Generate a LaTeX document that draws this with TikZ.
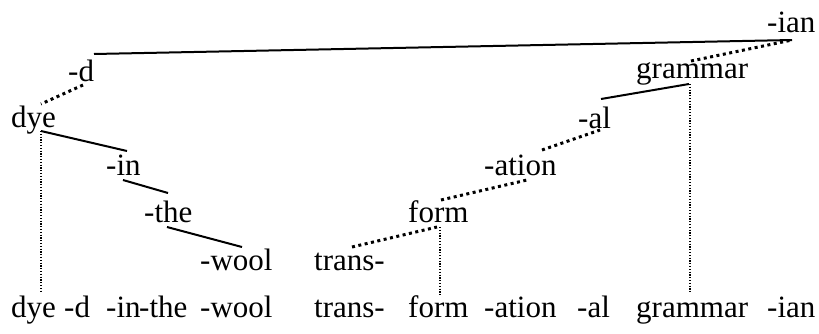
\documentclass[tikz,border=0pt]{standalone}
\usepackage{fontspec}
\setmainfont{Liberation Serif}
\begin{document}
\begin{tikzpicture}[x=1pt,y=-1pt,
  w/.style={anchor=base west,inner sep=0pt,font=\fontsize{31}{37}\selectfont},
  solidln/.style={line width=2pt},
  dotln/.style={line width=3pt,dash pattern=on 3pt off 3.5pt},
  thinln/.style={line width=1.2pt,dash pattern=on 1.2pt off 1.6pt}]
\useasboundingbox (0,0) rectangle (819,333);
% tree nodes
\node[w] (ian) at (767,32) {-ian};
\node[w] (d) at (68,81) {-d};
\node[w] (grammar) at (636,78) {grammar};
\node[w] (dye) at (11,127) {dye};
\node[w] (al) at (578,128) {-al};
\node[w] (in) at (106,175) {-in};
\node[w] (ation) at (484,175) {-ation};
\node[w] (the) at (144,222) {-the};
\node[w] (form) at (408,222) {form};
\node[w] (wool) at (200,270) {-wool};
\node[w] (trans) at (314,270) {trans-};
% bottom row
\node[w] (bdye) at (11,317) {dye};
\node[w] (bd) at (64,317) {-d};
\node[w] (bin) at (106,317) {-in};
\node[w] (bthe) at (139,317) {-the};
\node[w] (bwool) at (200,317) {-wool};
\node[w] (btrans) at (314,317) {trans-};
\node[w] (bform) at (408,317) {form};
\node[w] (bation) at (484,317) {-ation};
\node[w] (bal) at (577,317) {-al};
\node[w] (bgrammar) at (636,317) {grammar};
\node[w] (bian) at (767,317) {-ian};
% connectors
\draw[solidln] ([shift={(26,-27)}]d.base west) -- ([shift={(25,8)}]ian.base west);
\draw[dotln] ([shift={(15,4)}]d.base west) -- ([shift={(30,-23)}]dye.base west);
\draw[solidln] ([shift={(30,4)}]dye.base west) -- ([shift={(21,-24)}]in.base west);
\draw[thinln] ([shift={(30,4)}]dye.base west) -- ([shift={(30,-25)}]bdye.base west);
\draw[solidln] ([shift={(17,5)}]in.base west) -- ([shift={(24,-29)}]the.base west);
\draw[solidln] ([shift={(23,5)}]the.base west) -- ([shift={(42,-23)}]wool.base west);
\draw[dotln] ([shift={(38,-23)}]trans.base west) -- ([shift={(29,5)}]form.base west);
\draw[thinln] ([shift={(32,5)}]form.base west) -- ([shift={(32,-22)}]bform.base west);
\draw[dotln] ([shift={(33,-22)}]form.base west) -- ([shift={(43,5)}]ation.base west);
\draw[dotln] ([shift={(58,-25)}]ation.base west) -- ([shift={(22,2)}]al.base west);
\draw[solidln] ([shift={(23,-29)}]al.base west) -- ([shift={(53,6)}]grammar.base west);
\draw[thinln] ([shift={(54,6)}]grammar.base west) -- ([shift={(54,-24)}]bgrammar.base west);
\draw[dotln] ([shift={(55,-17)}]grammar.base west) -- ([shift={(25,8)}]ian.base west);
\end{tikzpicture}
\end{document}
